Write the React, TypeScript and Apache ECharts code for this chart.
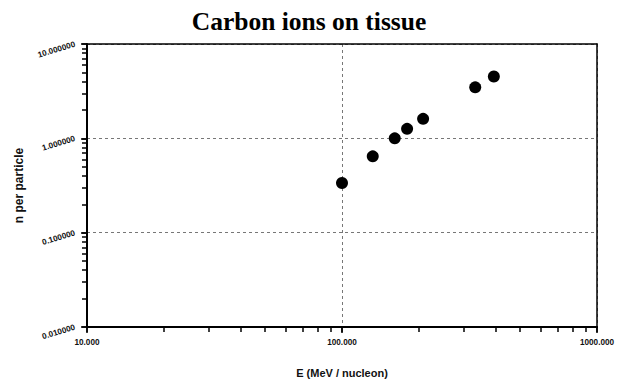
import React, { useEffect, useRef } from "react";
import * as echarts from "echarts";

const energy = [100, 132, 161, 180, 208, 333, 394];
const nPerParticle = [0.336, 0.644, 1.0, 1.26, 1.61, 3.47, 4.52];
const xMinorTicks = [10, 20, 30, 40, 50, 60, 70, 80, 90, 100, 200, 300, 400, 500, 600, 700, 800, 900, 1000];
const yMinorTicks = [
  0.01, 0.02, 0.03, 0.04, 0.05, 0.06, 0.07, 0.08, 0.09,
  0.1, 0.2, 0.3, 0.4, 0.5, 0.6, 0.7, 0.8, 0.9,
  1, 2, 3, 4, 5, 6, 7, 8, 9, 10,
];

const sans = "Liberation Sans, Arial, sans-serif";

export default function App() {
  const ref = useRef<HTMLDivElement>(null);
  useEffect(() => {
    if (!ref.current) return;
    const chart = echarts.init(ref.current, null, { renderer: "svg" });
    const labelStyle = { fontFamily: sans, fontWeight: "bold" as const, fontSize: 8.2, color: "#111" };
    chart.setOption({
      animation: false,
      backgroundColor: "#fff",
      title: {
        text: "Carbon ions on tissue",
        left: 304,
        textAlign: "center",
        top: 3,
        textStyle: { fontFamily: "Liberation Serif, Times New Roman, serif", fontWeight: "bold", fontSize: 25.5, color: "#000" },
      },
      grid: { left: 87, right: 22, top: 44, bottom: 52 },
      xAxis: [
        {
          type: "log",
          logBase: 10,
          min: 10,
          max: 1000,
          name: "E (MeV / nucleon)",
          nameLocation: "middle",
          nameGap: 40,
          nameTextStyle: { fontFamily: sans, fontWeight: "bold", fontSize: 11, color: "#111" },
          axisLine: { show: true, lineStyle: { color: "#000", width: 2 } },
          axisTick: { show: true, length: 6, lineStyle: { color: "#000", width: 1.5 } },
          axisLabel: { ...labelStyle, margin: 11, formatter: (v: number) => v.toFixed(3) },
          splitLine: { show: true, lineStyle: { color: "#777", width: 1, type: [3, 3] } },
        },
        {
          type: "log",
          logBase: 10,
          min: 10,
          max: 1000,
          position: "bottom",
          axisLine: { show: false },
          axisTick: { show: true, length: 5, customValues: xMinorTicks, lineStyle: { color: "#000", width: 1.5 } },
          axisLabel: { show: false },
          splitLine: { show: false },
        },
        {
          type: "log",
          logBase: 10,
          min: 10,
          max: 1000,
          position: "top",
          axisLine: { show: true, lineStyle: { color: "#000", width: 1.5 } },
          axisTick: { show: false },
          axisLabel: { show: false },
          splitLine: { show: false },
        },
      ],
      yAxis: [
        {
          type: "log",
          logBase: 10,
          min: 0.01,
          max: 10,
          name: "n per particle",
          nameLocation: "middle",
          nameGap: 62,
          nameTextStyle: { fontFamily: sans, fontWeight: "bold", fontSize: 12, color: "#111" },
          axisLine: { show: true, lineStyle: { color: "#000", width: 2 } },
          axisTick: { show: true, length: 6, lineStyle: { color: "#000", width: 1.5 } },
          axisLabel: {
            ...labelStyle,
            margin: 12,
            rotate: 17,
            padding: [15, 0, 0, 0],
            formatter: (v: number) => v.toFixed(6),
          },
          splitLine: { show: true, lineStyle: { color: "#777", width: 1, type: [3, 3] } },
        },
        {
          type: "log",
          logBase: 10,
          min: 0.01,
          max: 10,
          position: "left",
          axisLine: { show: false },
          axisTick: { show: true, length: 5, customValues: yMinorTicks, lineStyle: { color: "#000", width: 1.5 } },
          axisLabel: { show: false },
          splitLine: { show: false },
        },
        {
          type: "log",
          logBase: 10,
          min: 0.01,
          max: 10,
          position: "right",
          axisLine: { show: true, lineStyle: { color: "#000", width: 1.5 } },
          axisTick: { show: false },
          axisLabel: { show: false },
          splitLine: { show: false },
        },
      ],
      series: [
        {
          type: "scatter",
          xAxisIndex: 0,
          yAxisIndex: 0,
          symbol: "circle",
          symbolSize: 12,
          itemStyle: { color: "#000", opacity: 1 },
          data: energy.map((e, i) => [e, nPerParticle[i]]),
        },
      ],
    });
    return () => chart.dispose();
  }, []);
  return <div ref={ref} style={{ position: "fixed", left: 0, top: 0, width: 619, height: 383 }} />;
}
